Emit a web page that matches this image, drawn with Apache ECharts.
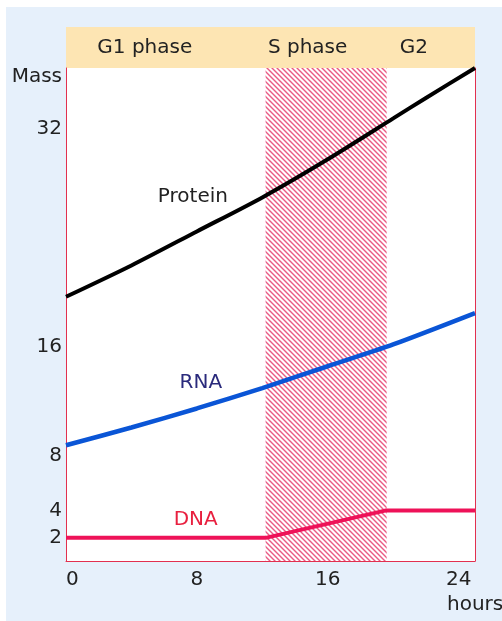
<!DOCTYPE html>
<html>
<head>
<meta charset="utf-8">
<script src="https://cdn.jsdelivr.net/npm/echarts@6/dist/echarts.min.js"></script>
<style>
html,body{margin:0;padding:0;background:#ffffff;width:502px;height:621px;overflow:hidden;}
#c{position:absolute;left:6px;top:7px;width:496px;height:614px;background:#e6f0fb;}
</style>
</head>
<body>
<div id="c"></div>
<script>
// ---- data ----
const protHours = [0, 4, 8, 12, 16, 20, 22, 25];
const protein   = [19.7, 22.0, 24.5, 27.0, 29.8, 32.8, 34.3, 36.5];
const rnaHours  = [0, 4, 8, 12, 16, 20, 25];
const rna       = [8.8, 10.1, 11.5, 13.0, 14.6, 16.2, 18.5];
const dnaHours  = [0, 8.2, 12.2, 19.5, 25];
const dna       = [2, 2, 2, 4, 4];
const phaseNames = ['G1 phase', 'S phase', 'G2'];
const phaseStart = [0, 12.2, 19.6];
const phaseEnd   = [12.2, 19.6, 25];
const xTicks = [0, 8, 16, 24];
const yTicks = [2, 4, 8, 16, 32];
const seriesNames = ['Protein', 'RNA', 'DNA'];
const labelIndex = [2, 2, 1];

const FONT = 'DejaVu Sans';
const RED = '#e2304f';

// hatch pattern for S phase
const pc = document.createElement('canvas');
pc.width = 5; pc.height = 5;
const g = pc.getContext('2d');
g.fillStyle = '#ffffff'; g.fillRect(0, 0, 5, 5);
g.strokeStyle = '#ea5a84'; g.lineWidth = 1.4;
g.beginPath();
g.moveTo(-1, -1); g.lineTo(6, 6);
g.moveTo(-1, 4); g.lineTo(1, 6);
g.moveTo(4, -1); g.lineTo(6, 1);
g.stroke();

function pairs(xs, ys, idx, name, color, off) {
  return xs.map((x, i) => {
    const d = { value: [x, ys[i]] };
    if (i === idx) {
      d.label = { show: true, formatter: name, position: 'inside', offset: off,
        color: color, fontFamily: FONT, fontSize: 20 };
    }
    return d;
  });
}

const chart = echarts.init(document.getElementById('c'));
chart.setOption({
  animation: false,
  grid: [
    { left: 60, right: 27, top: 61, bottom: 60, show: true, backgroundColor: '#ffffff', borderWidth: 0, outerBoundsMode: 'none', containLabel: false },
    { left: 60, right: 27, top: 20, height: 41, show: true, backgroundColor: '#fde5b3', borderWidth: 0, outerBoundsMode: 'none', containLabel: false }
  ],
  xAxis: [
    { type: 'value', gridIndex: 0, min: 0, max: 25,
      name: 'hours', nameLocation: 'end', nameGap: -28,
      nameTextStyle: { fontFamily: FONT, fontSize: 20, color: '#222', align: 'left', verticalAlign: 'top', padding: [34, 0, 0, 0] },
      axisLine: { show: true, lineStyle: { color: RED, width: 1 } },
      axisTick: { show: false }, splitLine: { show: false },
      axisLabel: { customValues: xTicks, alignMinLabel: 'left', margin: 9, fontFamily: FONT, fontSize: 20, color: '#222' } },
    { type: 'value', gridIndex: 1, min: 0, max: 25, show: false }
  ],
  yAxis: [
    { type: 'value', gridIndex: 0, min: 0.3, max: 36.5,
      name: 'Mass', nameLocation: 'end', nameGap: -9,
      nameTextStyle: { fontFamily: FONT, fontSize: 20, color: '#222', align: 'right', verticalAlign: 'middle', padding: [0, 4, 0, 0] },
      axisLine: { show: true, lineStyle: { color: RED, width: 1 } },
      axisTick: { show: false }, splitLine: { show: false },
      axisLabel: { customValues: yTicks, margin: 4, fontFamily: FONT, fontSize: 20, color: '#222' } },
    { type: 'value', gridIndex: 0, min: 0.3, max: 36.5, position: 'right',
      axisLine: { show: true, lineStyle: { color: RED, width: 1 } },
      axisTick: { show: false }, splitLine: { show: false }, axisLabel: { show: false } },
    { type: 'value', gridIndex: 1, min: 0, max: 1, show: false }
  ],
  series: [
    { type: 'line', xAxisIndex: 0, yAxisIndex: 0, data: [], z: 1, silent: true,
      markArea: { silent: true, itemStyle: { color: { image: pc, repeat: 'repeat' } },
        data: [[{ xAxis: phaseStart[1], yAxis: 'min' }, { xAxis: phaseEnd[1], yAxis: 'max' }]] } },
    { type: 'line', xAxisIndex: 1, yAxisIndex: 2, data: [], silent: true,
      markArea: { silent: true, itemStyle: { color: 'rgba(0,0,0,0)' },
        label: { show: true, position: 'inside', fontFamily: FONT, fontSize: 20, color: '#222' },
        data: phaseNames.map((n, i) => [
          { name: n, xAxis: phaseStart[i], yAxis: 0, label: { offset: [[-21, 0], [-18.5, 0], [-17, 0]][i] } },
          { xAxis: phaseEnd[i], yAxis: 1 }
        ]) } },
    { name: seriesNames[0], type: 'line', xAxisIndex: 0, yAxisIndex: 0, smooth: 0.25,
      symbol: 'circle', symbolSize: 0, showSymbol: true, z: 3,
      lineStyle: { color: '#000000', width: 4 }, itemStyle: { color: '#000' },
      data: pairs(protHours, protein, labelIndex[0], seriesNames[0], '#222222', [-4, -35]) },
    { name: seriesNames[1], type: 'line', xAxisIndex: 0, yAxisIndex: 0, smooth: 0.25,
      symbol: 'circle', symbolSize: 0, showSymbol: true, z: 3,
      lineStyle: { color: '#0a55d6', width: 4.5 }, itemStyle: { color: '#0a55d6' },
      data: pairs(rnaHours, rna, labelIndex[1], seriesNames[1], '#2a2a7c', [4, -26]) },
    { name: seriesNames[2], type: 'line', xAxisIndex: 0, yAxisIndex: 0,
      symbol: 'circle', symbolSize: 0, showSymbol: true, z: 3,
      lineStyle: { color: '#ee1258', width: 4 }, itemStyle: { color: '#ee1258' },
      data: pairs(dnaHours, dna, labelIndex[2], seriesNames[2], '#e8203f', [-4.5, -18]) }
  ]
});
</script>
</body>
</html>
